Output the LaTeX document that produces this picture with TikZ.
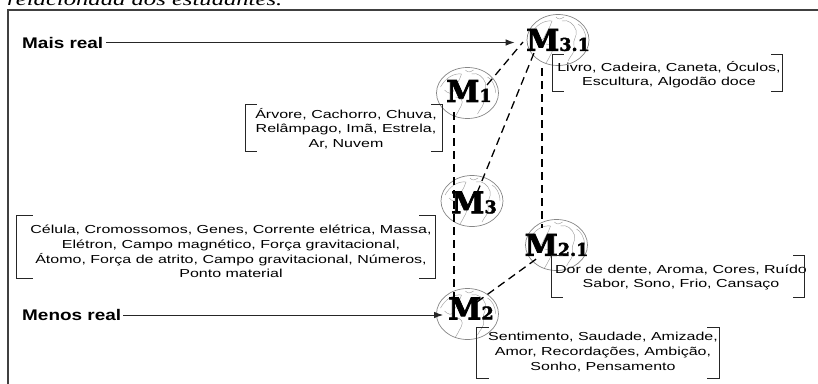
\documentclass[tikz,border=0pt]{standalone}
\usepackage{fontspec}
\usepackage{tikz}
\usetikzlibrary{shapes.geometric,arrows.meta,calc}

\newfontfamily\listfont[FakeStretch=1.38]{Liberation Sans}
\newfontfamily\sidefont[FakeStretch=1.23]{Liberation Sans}
\newfontfamily\titlefont[FakeStretch=1.37]{Liberation Serif}
\newfontfamily\modelfont[FakeBold=2.5]{DejaVu Serif}
\newcommand{\model}[1]{{\modelfont\bfseries\fontsize{30}{30}\selectfont M\fontsize{17.5}{18}\selectfont #1}}

\tikzset{
	globe/.style={ellipse, draw=gray!95, line width=0.7pt, minimum width=62pt, minimum height=51pt, inner sep=0,
		path picture={
			\draw[gray!75, line width=0.45pt, shift={(path picture bounding box.center)}]
				(-27,-6) .. controls (-22,-15) and (-14,-20) .. (-6,-19)
				.. controls (-8,-12) and (-12,-8) .. (-14,-2)
				.. controls (-16,2) and (-20,0) .. (-23,-3)
				(-12,4) .. controls (-6,4) and (-4,8) .. (-6,12)
				.. controls (-8,16) and (-10,20) .. (-12,23)
				(4,-19) .. controls (10,-21) and (16,-16) .. (18,-10)
				.. controls (20,-4) and (14,0) .. (16,6)
				.. controls (18,12) and (12,16) .. (10,21)
				(20,-16) .. controls (24,-14) and (28,-8) .. (28,0)
				(-2,-23) .. controls (0,-20) and (3,-21) .. (6,-23);
		}},
	mlab/.style={inner sep=0},
	lst/.style={align=center, inner sep=0, font=\listfont\fontsize{11.6}{14.6}\selectfont},
	brk/.style={inner sep=0},
	side/.style={inner sep=0, anchor=west, font=\sidefont\bfseries\fontsize{15.4}{16}\selectfont},
	dline/.style={draw=black, line width=1.3pt, dash pattern=on 8pt off 5pt},
	arr/.style={draw=black!85, line width=1pt, -{Latex[length=9pt,width=6.5pt]}},
	brline/.style={draw=black!85, line width=1pt},
}

\begin{document}
\begin{tikzpicture}[x=1pt, y=-1pt]

\useasboundingbox (0,0) rectangle (818,383);

%Frame
\node[anchor=base west, inner sep=0, font=\titlefont\itshape\fontsize{18}{18}\selectfont] (title) at (7,5) {relacionada aos estudantes.};
\draw[line width=2pt, draw=black!75] (7.5,400) -- (7.5,10) -- (830,10);

%Models
\node[globe, label={[mlab]center:\model{3.1}}] (g31) at (558,40) {};
\node[globe, label={[mlab, xshift=1.5pt, yshift=2pt]center:\model{1}}] (g1) at (467.5,93) {};
\node[globe, label={[mlab, xshift=2pt, yshift=-1.5pt]center:\model{3}}] (g3) at (472,201) {};
\node[globe, label={[mlab]center:\model{2.1}}] (g21) at (556.5,245) {};
\node[globe, label={[mlab, xshift=3.5pt, yshift=5.5pt]center:\model{2}}] (g2) at (467.5,314) {};

%Sides
\node[side] (mais) at (22,42.5) {Mais real};
\node[side] (menos) at (22,315) {Menos real};

%Lists
\node[brk, minimum width=229pt, minimum height=36pt] (b31) at (667.5,73) {};
\node[lst] (t31) at (669,74.5) {Livro, Cadeira, Caneta, Óculos,\\ Escultura, Algodão doce};

\node[brk, minimum width=196pt, minimum height=46pt] (b1) at (344,128) {};
\node[lst] (t1) at (346,128.5) {Árvore, Cachorro, Chuva,\\ Relâmpago, Imã, Estrela,\\ Ar, Nuvem};

\node[brk, minimum width=418pt, minimum height=62pt] (b3) at (226,247) {};
\node[lst] (t3) at (231,251.5) {Célula, Cromossomos, Genes, Corrente elétrica, Massa,\\ Elétron, Campo magnético, Força gravitacional,\\ Átomo, Força de atrito, Campo gravitacional, Números,\\ Ponto material};

\node[brk, minimum width=252pt, minimum height=41pt] (b21) at (678,276.5) {};
\node[lst] (t21) at (681,277.5) {Dor de dente, Aroma, Cores, Ruído\\ Sabor, Sono, Frio, Cansaço};

\node[brk, minimum width=242pt, minimum height=50pt] (b2) at (598,353) {};
\node[lst] (t2) at (603,352) {Sentimento, Saudade, Amizade,\\ Amor, Recordações, Ambição,\\ Sonho, Pensamento};

%Brackets
\foreach \b/\t in {b31/11, b1/11, b3/16, b21/11, b2/12} {
	\draw[brline] ($(\b.north west)+(\t,0)$) -- (\b.north west) -- (\b.south west) -- ++(\t,0);
	\draw[brline] ($(\b.north east)+(-\t,0)$) -- (\b.north east) -- (\b.south east) -- ++(-\t,0);
}

%Arrows
\draw [arr] ($(mais.east)+(3,0)$) -- ($(mais.east -| g31.west)+(-12,0)$);
\draw [arr] ($(menos.east)+(2,0)$) -- ($(menos.east -| g2.west)+(7,0)$);

%Links
\path [dline] ($(g1)+(19.5,-8)$) edge ($(g31)+(-35,2)$);
\path [dline] ($(g3)+(5,-8)$) edge ($(g31)+(-24,13)$);
\path [dline] ($(g1)+(-13.5,19)$) edge ($(g3)+(-18,0)$);
\path [dline] ($(g3)+(-18,0)$) edge ($(g2)+(-13.5,-16)$);
\path [dline] ($(g31)+(-16,28)$) edge ($(g21)+(-14.5,-17)$);
\path [dline] ($(g2)+(9.5,-12)$) edge ($(g21)+(-17.5,12)$);

\end{tikzpicture}
\end{document}
